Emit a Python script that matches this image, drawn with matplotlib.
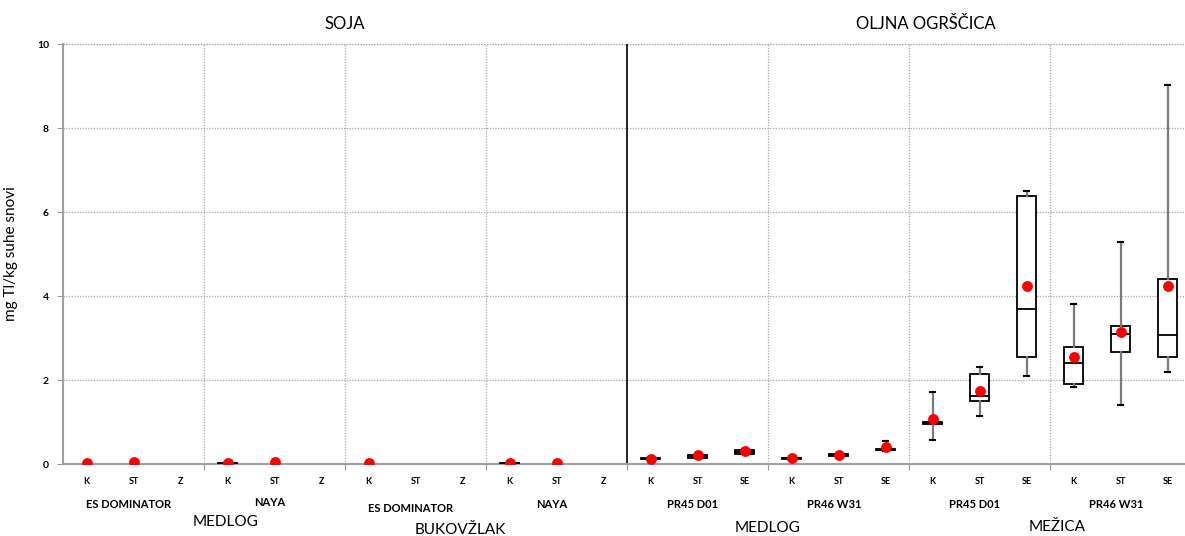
import numpy as np
import matplotlib
matplotlib.use("Agg")
import matplotlib.pyplot as plt
import matplotlib.transforms as mtransforms

plt.rcParams['font.family'] = ['Lato', 'DejaVu Sans']

nan = np.nan

# Treatments per box (soy: K/ST/Z, oilseed rape: K/ST/SE)
treatments = ["K", "ST", "Z"] * 4 + ["K", "ST", "SE"] * 4

# Box statistics (mg Tl/kg dry matter); NaN where no spread is drawn
whislo = [nan, nan, nan, 0.01, nan, nan, nan, nan, nan, 0.01, nan, nan,
          0.10, 0.14, 0.24, 0.12, 0.15, 0.30, 0.57, 1.14, 2.10, 1.84, 1.40, 2.20]
q1     = [nan, nan, nan, 0.01, nan, nan, nan, nan, nan, 0.01, nan, nan,
          0.11, 0.15, 0.25, 0.13, 0.19, 0.33, 0.96, 1.50, 2.54, 1.90, 2.67, 2.54]
median = [nan, nan, nan, 0.02, nan, nan, nan, nan, nan, 0.02, nan, nan,
          0.13, 0.18, 0.29, 0.14, 0.21, 0.34, 0.98, 1.61, 3.68, 2.41, 3.09, 3.06]
q3     = [nan, nan, nan, 0.03, nan, nan, nan, nan, nan, 0.03, nan, nan,
          0.15, 0.22, 0.34, 0.15, 0.23, 0.36, 1.00, 2.15, 6.38, 2.78, 3.29, 4.40]
whishi = [nan, nan, nan, 0.03, nan, nan, nan, nan, nan, 0.03, nan, nan,
          0.16, 0.23, 0.36, 0.17, 0.25, 0.54, 1.71, 2.30, 6.50, 3.81, 5.29, 9.02]
means  = [0.02, 0.05, nan, 0.02, 0.05, nan, 0.02, nan, nan, 0.02, 0.02, nan,
          0.13, 0.21, 0.31, 0.15, 0.21, 0.40, 1.06, 1.74, 4.25, 2.54, 3.15, 4.25]

varieties = ["ES DOMINATOR", "NAYA", "ES DOMINATOR", "NAYA",
             "PR45 D01", "PR46 W31", "PR45 D01", "PR46 W31"]
locations = ["MEDLOG", "BUKOVŽLAK", "MEDLOG", "MEŽICA"]
crops = ["SOJA", "OLJNA OGRŠČICA"]

W, H = 1185, 536
fig = plt.figure(figsize=(W / 100, H / 100), dpi=100)
x0, x1, y0, y1 = 63, 1191, 44, 464
ax = fig.add_axes([x0 / W, 1 - y1 / H, (x1 - x0) / W, (y1 - y0) / H])

n = len(treatments)

stats = []
bpos = []
for i in range(n):
    if np.isnan(median[i]):
        continue
    stats.append(dict(med=median[i], q1=q1[i], q3=q3[i],
                      whislo=whislo[i], whishi=whishi[i], fliers=[]))
    bpos.append(i)

ax.bxp(stats, positions=bpos, widths=0.4, showfliers=False, patch_artist=True,
       boxprops=dict(facecolor="white", edgecolor="black", linewidth=1.3),
       medianprops=dict(color="black", linewidth=1.3),
       whiskerprops=dict(color="#7a7a7a", linewidth=1.6),
       capprops=dict(color="black", linewidth=1.5),
       capwidths=0.12, zorder=3)

mx = [i for i in range(n) if not np.isnan(means[i])]
ax.plot(mx, [means[i] for i in mx], "o", color="#ff0000", markersize=7.8,
        markeredgewidth=0, zorder=5, linestyle="none")

ax.set_xlim(-0.5, n - 0.5)
ax.set_ylim(0, 10)
ax.set_yticks(np.arange(0, 11, 2))
ax.set_yticklabels([str(v) for v in range(0, 11, 2)], fontsize=7.5,
                   fontweight="bold")
ax.tick_params(axis="y", length=4, color="#999999", pad=6)

bounds = [2.5, 5.5, 8.5, 11.5, 14.5, 17.5, 20.5]
ax.set_xticks(bounds)
ax.set_xticklabels([])
ax.tick_params(axis="x", length=4, color="#999999")

ax.yaxis.grid(True, linestyle=(0, (1, 1.2)), color="#a8a8a8", linewidth=0.9)
ax.axhline(10, linestyle=(0, (1, 1.2)), color="#a8a8a8", linewidth=0.9)
for b in bounds:
    if b == 11.5:
        ax.axvline(b, color="black", linewidth=1.2, zorder=2)
    else:
        ax.axvline(b, linestyle=(0, (1, 1.2)), color="#a8a8a8", linewidth=0.9,
                   zorder=1)
ax.set_axisbelow(True)

for s in ["top", "right"]:
    ax.spines[s].set_visible(False)
for s in ["left", "bottom"]:
    ax.spines[s].set_color("#a0a0a0")
    ax.spines[s].set_linewidth(1.5)

ax.set_ylabel("mg Tl/kg suhe snovi", fontsize=11)
ax.yaxis.set_label_coords(-(63 - 18) / (x1 - x0), 0.5)

trans = mtransforms.blended_transform_factory(ax.transData, ax.transAxes)


def ay(ypix):
    return (y1 - ypix) / (y1 - y0)


for i, t in enumerate(treatments):
    ax.text(i, ay(481), t, transform=trans, ha="center", va="center",
            fontsize=6.5, fontweight="bold")

var_y = [505, 502, 508, 505, 505, 505, 505, 505]
for g, v in enumerate(varieties):
    ax.text(3 * g + 1 - 0.1, ay(var_y[g]), v, transform=trans, ha="center",
            va="center", fontsize=8, fontweight="bold")

loc_x = [2.95, 7.95, 14.5, 20.65]
loc_y = [522, 530, 528, 527]
for lx, lyp, lab in zip(loc_x, loc_y, locations):
    ax.text(lx, ay(lyp), lab, transform=trans, ha="center", va="center",
            fontsize=11)

ax.text(5.5, ay(24), crops[0], transform=trans, ha="center", va="center",
        fontsize=12)
ax.text(17.85, ay(24), crops[1], transform=trans, ha="center", va="center",
        fontsize=12)

fig.savefig("out.png", dpi=100)
